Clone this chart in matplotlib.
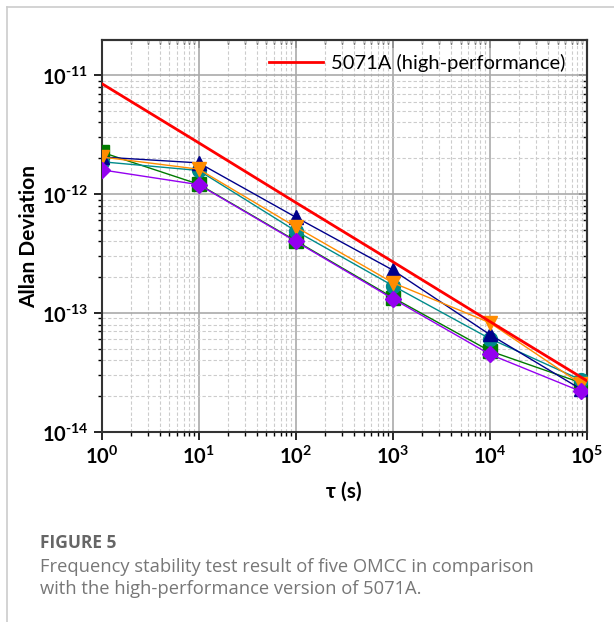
import math
import matplotlib
matplotlib.use("Agg")
import matplotlib.pyplot as plt
from matplotlib.ticker import LogLocator, FuncFormatter, NullFormatter
from matplotlib.lines import Line2D

plt.rcParams['font.family'] = ['Lato', 'DejaVu Sans']
plt.rcParams['mathtext.fontset'] = 'custom'
plt.rcParams['mathtext.rm'] = 'Lato:bold'
plt.rcParams['mathtext.bf'] = 'Lato:bold'

# averaging times (s)
tau = [1, 10, 100, 1000, 10000, 86400]
tau_ref = [1, 10, 100, 1000, 10000, 100000]

# 5071A high-performance spec
adev_5071a = [8.5e-12, 2.7e-12, 8.5e-13, 2.7e-13, 8.5e-14, 2.7e-14]

# five OMCC units
adev_navy = [2.05e-12, 1.83e-12, 6.4e-13, 2.3e-13, 6.6e-14, 2.3e-14]
adev_green = [2.25e-12, 1.21e-12, 4.05e-13, 1.35e-13, 4.8e-14, 2.6e-14]
adev_teal = [1.87e-12, 1.58e-12, 4.9e-13, 1.7e-13, 6.1e-14, 2.75e-14]
adev_orange = [2.05e-12, 1.62e-12, 5.3e-13, 1.8e-13, 8.3e-14, 2.55e-14]
adev_purple = [1.6e-12, 1.2e-12, 4.0e-13, 1.32e-13, 4.5e-14, 2.2e-14]

# major tick positions
x_major = [1, 10, 100, 1000, 10000, 100000]
y_major = [1e-14, 1e-13, 1e-12, 1e-11]

fig = plt.figure(figsize=(6.14, 6.22), dpi=100)
ax = fig.add_axes([0.1656, 0.3055, 0.790, 0.630])

# light frame of the figure panel
fig.add_artist(Line2D([7 / 614, 7 / 614], [0, 1 - 7 / 622], color='#cccccc', lw=1.2,
                      transform=fig.transFigure))
fig.add_artist(Line2D([7 / 614, 1], [1 - 7 / 622, 1 - 7 / 622], color='#cccccc', lw=1.2,
                      transform=fig.transFigure))

ax.plot(tau_ref, adev_5071a, color='#ff0000', lw=2, label='5071A (high-performance)', zorder=5)

series = [
    (adev_green, '#007a00', 's'),
    (adev_teal, '#008b8b', 'o'),
    (adev_navy, '#00008b', '^'),
    (adev_orange, '#ff8c00', 'v'),
    (adev_purple, '#9400f0', 'D'),
]
for vals, col, mk in series:
    ax.plot(tau, vals, color=col, lw=1, marker=mk, ms=10 if mk != 'D' else 8.5,
            mec=col, mfc=col, zorder=4)

ax.set_xscale('log')
ax.set_yscale('log')
ax.set_xlim(1, 1e5)
ax.set_ylim(1e-14, 1.97e-11)


def set_log_ticks(axis, majors):
    axis.set_ticks(majors)
    axis.set_minor_locator(LogLocator(base=10, subs=range(2, 10), numticks=20))
    axis.set_minor_formatter(NullFormatter())


def pow_label(v, pos):
    e = round(math.log10(v))
    if e < 0:
        return r'$\mathbf{10^{\text{-}%d}}$' % (-e)
    return r'$\mathbf{10^{%d}}$' % e


set_log_ticks(ax.xaxis, x_major)
set_log_ticks(ax.yaxis, y_major)
ax.xaxis.set_major_formatter(FuncFormatter(pow_label))
ax.yaxis.set_major_formatter(FuncFormatter(pow_label))

ax.grid(True, which='major', color='#aaaaaa', lw=1.2, ls='-')
ax.grid(True, which='minor', color='#cccccc', lw=0.8, ls=(0, (3, 2)))

ax.tick_params(axis='both', which='major', labelsize=14.5, width=1.2, length=6, direction='out')
ax.tick_params(axis='both', which='minor', width=1, length=3, direction='out')

# inward ticks on top and right
secx = ax.secondary_xaxis('top')
set_log_ticks(secx.xaxis, x_major)
secx.tick_params(which='major', direction='in', length=6, width=1.2, labeltop=False)
secx.tick_params(which='minor', direction='in', length=3, width=1)
secy = ax.secondary_yaxis('right')
set_log_ticks(secy.yaxis, y_major)
secy.tick_params(which='major', direction='in', length=6, width=1.2, labelright=False)
secy.tick_params(which='minor', direction='in', length=3, width=1)

for a in (ax, secx, secy):
    for sp in a.spines.values():
        sp.set_linewidth(1.5)
        sp.set_color('#333333')

ax.set_xlabel('τ (s)', fontsize=15, fontweight='bold', labelpad=10)
ax.set_ylabel('Allan Deviation', fontsize=15, fontweight='bold')
ax.yaxis.set_label_coords(-0.13, 0.5)

ax.legend(loc='upper right', frameon=False, fontsize=14.5, handlelength=2.7,
          handletextpad=0.4, bbox_to_anchor=(0.985, 1.0), borderaxespad=0.3)

fig.text(40 / 614, 1 - 543 / 622, 'FIGURE 5', fontsize=12.5, fontweight='bold',
         color='#666666', family='Open Sans', va='center')
fig.text(40 / 614, 1 - 578 / 622,
         'Frequency stability test result of five OMCC in comparison\n'
         'with the high-performance version of 5071A.',
         fontsize=13.2, color='#777777', family='Open Sans', va='center',
         linespacing=1.3)

fig.savefig('out.png', dpi=100)
